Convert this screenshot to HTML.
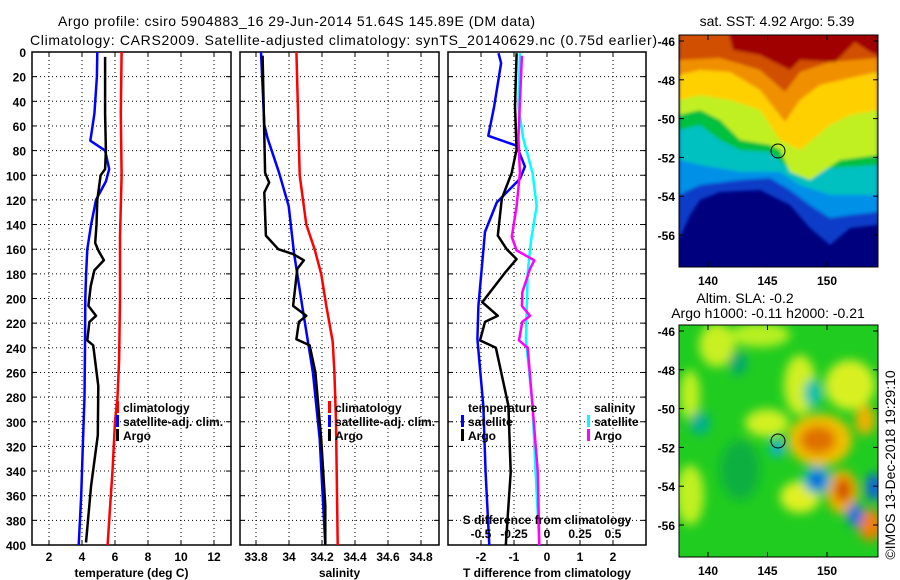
<!DOCTYPE html>
<html><head><meta charset="utf-8"><style>
html,body{margin:0;padding:0;background:#fff;}
svg{display:block;font-family:"Liberation Sans",sans-serif;}
.t{font-size:12px;font-weight:bold;fill:#000;}
.ti{font-size:14px;fill:#000;}
.g{stroke:#000;stroke-width:1;stroke-dasharray:1,3;fill:none;}
</style></head><body>
<svg id="chart" width="900" height="580" viewBox="0 0 900 580">
<defs>
<filter id="blur1"><feGaussianBlur stdDeviation="1.5"/></filter>
<filter id="blur2"><feGaussianBlur stdDeviation="5"/></filter>
<clipPath id="clipTop"><rect x="679" y="35" width="199" height="232"/></clipPath>
<clipPath id="clipBot"><rect x="679" y="325" width="199" height="232"/></clipPath>
</defs>
<text class="ti" x="58" y="26" textLength="477">Argo profile: csiro 5904883_16 29-Jun-2014 51.64S 145.89E (DM data)</text>
<text class="ti" x="30" y="45" textLength="627">Climatology: CARS2009. Satellite-adjusted climatology: synTS_20140629.nc (0.75d earlier)</text>
<g id="panels"></g>
<g id="maps">
 <g clip-path="url(#clipTop)">
  <rect x="679" y="35" width="199" height="232" fill="#00007f"/>
  <g filter="url(#blur1)">
  <polygon fill="#0a3cc8" points="679,240 690,215 700,200 720,192 760,190 790,205 810,228 830,245 850,228 878,225 878,30 679,30"/>
  <polygon fill="#0090e8" points="679,195 700,185 740,180 770,178 790,190 810,205 830,218 850,215 878,212 878,30 679,30"/>
  <polygon fill="#00c0c0" points="679,160 700,165 740,172 780,172 800,185 830,195 878,195 878,30 679,30"/>
  <polygon fill="#00c040" points="679,130 700,125 720,140 740,150 770,152 785,165 800,175 830,168 878,165 878,30 679,30"/>
  <polygon fill="#c0f020" points="679,115 700,110 720,120 740,140 770,145 780,150 790,172 810,180 840,160 878,155 878,30 679,30"/>
  <polygon fill="#ffd000" points="679,100 700,95 730,100 760,110 780,140 800,150 830,125 850,115 878,110 878,30 679,30"/>
  <polygon fill="#f09000" points="679,75 700,70 730,72 760,90 785,122 800,100 820,85 850,78 878,72 878,30 679,30"/>
  <polygon fill="#d05000" points="679,60 720,58 760,70 785,92 800,72 830,62 878,58 878,30 679,30"/>
  <polygon fill="#a00000" points="728,30 733,50 760,55 790,70 800,60 835,62 855,42 870,52 878,55 878,30"/>
  </g>
 </g>
 <rect x="679" y="35" width="199" height="232" fill="none" stroke="#000"/>
 <circle cx="778" cy="151" r="7" fill="none" stroke="#000"/>
 <g clip-path="url(#clipBot)">
  <rect x="679" y="325" width="199" height="232" fill="#20cc20"/>
  <g filter="url(#blur2)">
   <ellipse cx="717" cy="345" rx="18" ry="22" fill="#c8f020"/>
   <ellipse cx="760" cy="335" rx="30" ry="12" fill="#b8f020"/>
   <ellipse cx="800" cy="385" rx="16" ry="30" fill="#d0f020"/>
   <ellipse cx="850" cy="385" rx="25" ry="25" fill="#d8f020"/>
   <ellipse cx="767" cy="423" rx="22" ry="14" fill="#d0f020"/>
   <ellipse cx="690" cy="495" rx="14" ry="30" fill="#c0f020"/>
   <ellipse cx="800" cy="497" rx="20" ry="16" fill="#e0f020"/>
   <ellipse cx="690" cy="395" rx="10" ry="25" fill="#c0f020"/>
   <ellipse cx="820" cy="440" rx="32" ry="26" fill="#f0c000"/>
   <ellipse cx="818" cy="440" rx="18" ry="14" fill="#e07000"/>
   <ellipse cx="842" cy="492" rx="16" ry="22" fill="#f0b000"/>
   <ellipse cx="843" cy="490" rx="8" ry="12" fill="#d04800"/>
   <ellipse cx="870" cy="525" rx="12" ry="16" fill="#f08000"/>
   <ellipse cx="865" cy="420" rx="10" ry="15" fill="#f0b000"/>
   <ellipse cx="817" cy="480" rx="14" ry="14" fill="#00b0d0"/>
   <ellipse cx="817" cy="480" rx="7" ry="8" fill="#1050e0"/>
   <ellipse cx="855" cy="515" rx="8" ry="12" fill="#1070e0"/>
   <ellipse cx="874" cy="487" rx="8" ry="14" fill="#1060e0"/>
   <ellipse cx="777" cy="448" rx="7" ry="9" fill="#10b0e0"/>
   <ellipse cx="813" cy="393" rx="9" ry="14" fill="#00c0b0"/>
   <ellipse cx="700" cy="423" rx="10" ry="12" fill="#00b090"/>
   <ellipse cx="738" cy="363" rx="9" ry="12" fill="#00a870"/>
   <ellipse cx="740" cy="470" rx="20" ry="30" fill="#10b040"/>
  </g>
 </g>
 <rect x="679" y="325" width="199" height="232" fill="none" stroke="#000"/>
 <circle cx="778" cy="441" r="7" fill="none" stroke="#000"/>
 <text class="ti" x="777" y="26" text-anchor="middle">sat. SST: 4.92 Argo: 5.39</text>
 <text class="ti" x="745" y="303" text-anchor="middle">Altim. SLA: -0.2</text>
 <text class="ti" x="768" y="318" text-anchor="middle">Argo h1000: -0.11 h2000: -0.21</text>
 <text class="ti" transform="translate(895,465) rotate(-90)" text-anchor="middle">©IMOS 13-Dec-2018 19:29:10</text>
</g>
</svg>
<script>
// ---------- data ----------
const depthTicks = [0,20,40,60,80,100,120,140,160,180,200,220,240,260,280,300,320,340,360,380,400];
const tTicks = [2,4,6,8,10,12];
const sTicks = [33.8,34,34.2,34.4,34.6,34.8];
const dTicks = [-2,-1,0,1,2];
const sdTicks = [-0.5,-0.25,0,0.25,0.5];
const sdTickLabels = ["-0.5","-0.25","0","0.25","0.5"];
// panel 1 temperature
const climTDepth = [0,50,100,150,200,250,280,300,340,370,400];
const climT = [6.4,6.35,6.4,6.3,6.3,6.25,6.15,6.0,5.85,5.7,5.55];
const satTDepth = [0,20,50,68,72,80,95,105,120,140,160,180,200,240,280,320,360,400];
const satT = [4.93,4.9,4.75,4.55,4.5,5.4,5.65,5.45,4.85,4.55,4.32,4.25,4.2,4.18,4.15,4.05,3.95,3.8];
const argoTDepth = [4,50,80,95,100,120,140,155,161,169,177,190,206,214,219,234,238,271,311,352,398];
const argoT = [5.4,5.4,5.45,5.4,5.13,4.93,4.88,4.8,4.99,5.33,4.75,4.53,4.39,4.85,4.45,4.32,4.68,4.99,4.96,4.55,4.24];
// panel 2 salinity
const climSDepth = [0,100,140,160,180,205,235,260,300,400];
const climS = [34.045,34.065,34.105,34.155,34.195,34.225,34.265,34.275,34.285,34.295];
const satSDepth = [0,59,70,98,125,163,206,260,314,400];
const satS = [33.83,33.85,33.87,33.94,33.998,34.03,34.08,34.145,34.186,34.22];
const argoSDepth = [3,98,106,114,149,160,164,169,176,206,214,219,233,238,260,314,368,400];
const argoS = [33.84,33.855,33.88,33.85,33.86,33.935,34.025,34.09,34.05,34.025,34.105,34.06,34.045,34.125,34.16,34.195,34.22,34.22];
// panel 3 differences
const satDTDepth = [1,9,44,68,76,93,103,122,146,206,233,287,341,400];
const satDT = [-1.47,-1.39,-1.6,-1.78,-0.92,-0.67,-0.82,-1.52,-1.88,-2.08,-2.11,-1.93,-1.86,-1.75];
const argoDTDepth = [1,44,79,98,119,149,160,168,179,203,214,219,234,240,287,341,400];
const argoDT = [-0.92,-0.97,-0.92,-1.07,-1.37,-1.49,-1.22,-0.92,-1.27,-1.96,-1.49,-1.88,-2.03,-1.55,-1.17,-1.1,-1.25];
const satDSDepth = [1,44,70,98,125,152,179,233,287,341,400];
const satDS = [-0.205,-0.217,-0.18,-0.11,-0.078,-0.12,-0.146,-0.16,-0.11,-0.086,-0.058];
const argoDSDepth = [3,70,98,125,150,161,169,176,195,206,214,219,234,240,287,341,400];
const argoDS = [-0.19,-0.217,-0.205,-0.23,-0.267,-0.23,-0.096,-0.129,-0.187,-0.19,-0.129,-0.187,-0.212,-0.146,-0.11,-0.07,-0.058];
const latTicks = [-46,-48,-50,-52,-54,-56];
const lonTicks = [140,145,150];

// ---------- scales ----------
const NS = "http://www.w3.org/2000/svg";
const Y0 = 52, Y1 = 545;
function yD(d){ return Y0 + d*(Y1-Y0)/400; }
function lin(d0,d1,r0,r1){ return v => r0 + (v-d0)*(r1-r0)/(d1-d0); }
const xT = lin(2,12,49,214);
const xS = lin(33.8,34.8,256,421);
const xDT = lin(0,2,547,613);
const xDS = lin(0,0.5,547,613);
const panels = document.getElementById('panels');
function mk(tag, attrs, parent){
  const e = document.createElementNS(NS, tag);
  for (const k in attrs) e.setAttribute(k, attrs[k]);
  (parent||panels).appendChild(e); return e;
}
function txt(x,y,s,cls,anchor,parent){
  const e = mk('text',{x:x,y:y,'class':cls,'text-anchor':anchor||'start'},parent);
  e.textContent = s; return e;
}
function panel(name, L, R, xs, ticks, labels, xlabel, showY){
  const g = mk('g',{});
  
  
  depthTicks.forEach((d,i)=>{
    if (i>0 && i<depthTicks.length-1) { const l = mk('line',{x1:L,x2:R,y1:yD(d),y2:yD(d),'class':'g'},g);   }
    mk('line',{x1:L,x2:L+5,y1:yD(d),y2:yD(d),stroke:'#000'},g);
    mk('line',{x1:R-5,x2:R,y1:yD(d),y2:yD(d),stroke:'#000'},g);
    if (showY) { const t = txt(26, yD(d)+5, String(d), 't', 'end', g);   }
  });
  ticks.forEach((v,i)=>{
    const x = xs(v);
    const l = mk('line',{x1:x,x2:x,y1:Y0,y2:Y1,'class':'g'},g);
    
    
    mk('line',{x1:x,x2:x,y1:Y0,y2:Y0+5,stroke:'#000'},g);
    mk('line',{x1:x,x2:x,y1:Y1-5,y2:Y1,stroke:'#000'},g);
    const t = txt(x, 561, labels[i], 't', 'middle', g);
    
    
  });
  const f = mk('rect',{x:L,y:Y0,width:R-L,height:Y1-Y0,fill:'none',stroke:'#000','stroke-width':1.5},g);
  
  
  const xl = txt((L+R)/2, 577, xlabel, 't', 'middle', g);
  
  
  return g;
}
function series(name, g, xs, vals, depths, color, w){
  const pts = vals.map((v,i)=> xs(v).toFixed(1)+','+yD(depths[i]).toFixed(1)).join(' ');
  const p = mk('polyline',{points:pts,fill:'none',stroke:color,'stroke-width':w,'stroke-linejoin':'round'},g);
  
  
}
function legendEntry(name, g, x, y, color, label){
  const gg = mk('g',{},g);
  
  
  if (color) mk('rect',{x:x-7,y:y-11,width:3,height:12,fill:color},gg);
  txt(x, y, label, 't', 'start', gg);
}
const g1 = panel('temperature-panel', 32, 231, xT, tTicks, tTicks.map(String), 'temperature (deg C)', true);
series('climatology-temperature-line', g1, xT, climT, climTDepth, '#f00', 2.5);
series('satellite-temperature-line', g1, xT, satT, satTDepth, '#00f', 2.5);
series('argo-temperature-line', g1, xT, argoT, argoTDepth, '#000', 2.5);
legendEntry('legend-climatology', g1, 123, 412, '#f00', 'climatology');
legendEntry('legend-satellite-adj', g1, 123, 426, '#00f', 'satellite-adj. clim.');
legendEntry('legend-argo', g1, 123, 440, '#000', 'Argo');

const g2 = panel('salinity-panel', 240, 439, xS, sTicks, ["33.8","34","34.2","34.4","34.6","34.8"], 'salinity', false);
series('climatology-salinity-line', g2, xS, climS, climSDepth, '#f00', 2.5);
series('satellite-salinity-line', g2, xS, satS, satSDepth, '#00f', 2.5);
series('argo-salinity-line', g2, xS, argoS, argoSDepth, '#000', 2.5);
legendEntry('legend-climatology', g2, 335, 412, '#f00', 'climatology');
legendEntry('legend-satellite-adj', g2, 335, 426, '#00f', 'satellite-adj. clim.');
legendEntry('legend-argo', g2, 335, 440, '#000', 'Argo');

const g3 = panel('difference-panel', 448, 646, xDT, dTicks, dTicks.map(String), 'T difference from climatology', false);
series('satellite-temperature-diff-line', g3, xDT, satDT, satDTDepth, '#00f', 2.5);
series('argo-temperature-diff-line', g3, xDT, argoDT, argoDTDepth, '#000', 2.5);
series('satellite-salinity-diff-line', g3, xDS, satDS, satDSDepth, '#0ff', 2.5);
series('argo-salinity-diff-line', g3, xDS, argoDS, argoDSDepth, '#f0f', 2.5);
legendEntry('legend-temperature-header', g3, 468, 412, null, 'temperature');
legendEntry('legend-temp-satellite', g3, 468, 426, '#00f', 'satellite');
legendEntry('legend-temp-argo', g3, 468, 440, '#000', 'Argo');
legendEntry('legend-salinity-header', g3, 594, 412, null, 'salinity');
legendEntry('legend-sal-satellite', g3, 594, 426, '#0ff', 'satellite');
legendEntry('legend-sal-argo', g3, 594, 440, '#f0f', 'Argo');
const sdt = txt(547, 524, 'S difference from climatology', 't', 'middle', g3);


sdTicks.forEach((v,i)=>{
  const t = txt(xDS(v), 538, sdTickLabels[i], 't', 'middle', g3);
  
  
});

// map ticks
const maps = document.getElementById('maps');
const yLat = lin(-46,-56,41,235);
const xLon = lin(140,150,708,827);
[0,290].forEach(off=>{
  latTicks.forEach(v=>{
    const y = yLat(v)+off;
    mk('line',{x1:679,x2:684,y1:y,y2:y,stroke:'#000'},maps);
    mk('line',{x1:873,x2:878,y1:y,y2:y,stroke:'#000'},maps);
    const t = txt(675, y+5, String(v), 't', 'end', maps);
    
    
  });
  lonTicks.forEach(v=>{
    const x = xLon(v);
    mk('line',{x1:x,x2:x,y1:35+off,y2:40+off,stroke:'#000'},maps);
    mk('line',{x1:x,x2:x,y1:262+off,y2:267+off,stroke:'#000'},maps);
    const t = txt(x, 285+off, String(v), 't', 'middle', maps);
    
    
  });
});
</script>
</body></html>
